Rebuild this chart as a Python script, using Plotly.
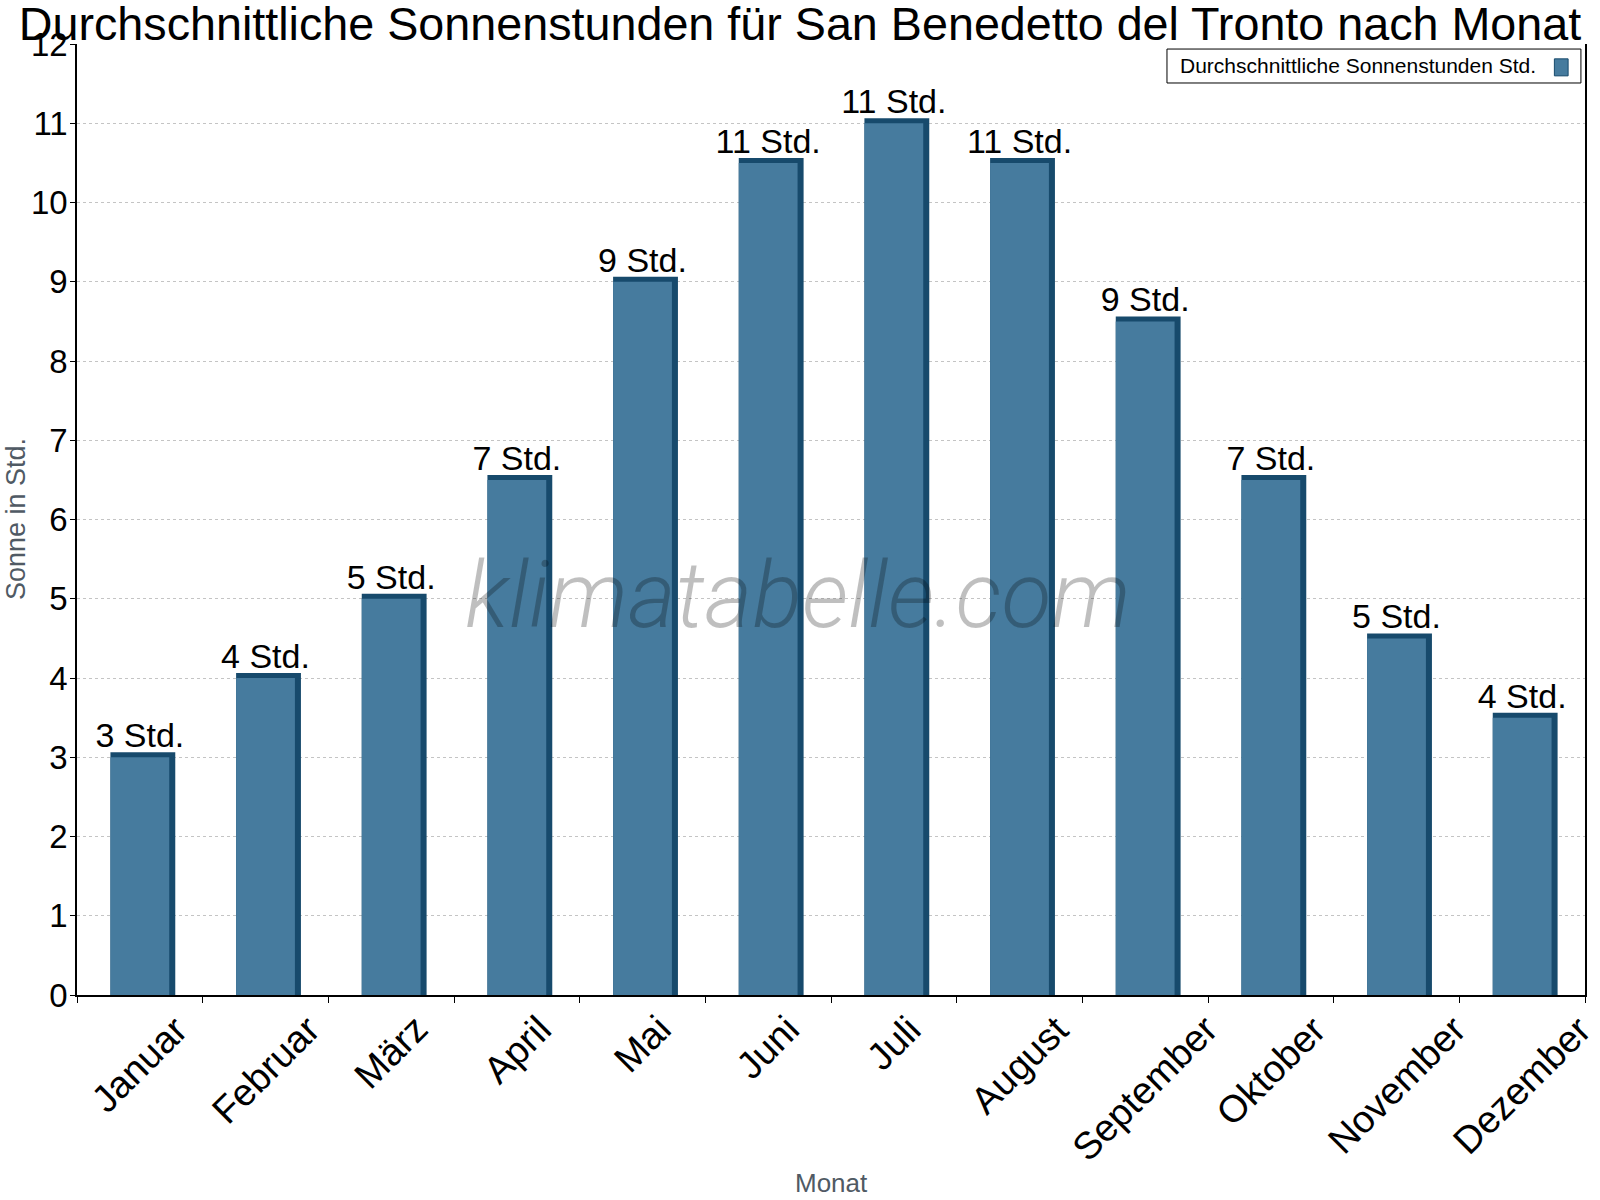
import plotly.graph_objects as go

months = ["Januar", "Februar", "März", "April", "Mai", "Juni", "Juli",
          "August", "September", "Oktober", "November", "Dezember"]
sun_hours = [3, 4, 5, 6.5, 9, 10.5, 11, 10.5, 8.5, 6.5, 4.5, 3.5]
labels = ["3 Std.", "4 Std.", "5 Std.", "7 Std.", "9 Std.", "11 Std.", "11 Std.",
          "11 Std.", "9 Std.", "7 Std.", "5 Std.", "4 Std."]
y_ticks = list(range(0, 13))

FRONT = "#467b9e"
DARK = "#174a6c"
FONT = "Liberation Sans, Arial, sans-serif"
AXIS_TITLE_COLOR = "#505a64"

# pseudo-3D depth (in axis units)
bar_w = 0.468
dx = 0.048
dy = 0.063

fig = go.Figure()
fig.add_trace(go.Bar(
    x=months, y=[v + dy for v in sun_hours], width=bar_w + dx, offset=-bar_w / 2,
    marker=dict(color=DARK, line=dict(width=0)),
    hoverinfo="skip", showlegend=False,
))
fig.add_trace(go.Bar(
    x=months, y=sun_hours, width=bar_w, offset=-bar_w / 2,
    marker=dict(color=FRONT, line=dict(width=0)),
    text=labels, textposition="outside", constraintext="none", cliponaxis=False,
    textfont=dict(family=FONT, size=34, color="black"),
    name="Durchschnittliche Sonnenstunden Std.", showlegend=False,
))

fig.update_layout(
    width=1600, height=1200,
    barmode="overlay",
    paper_bgcolor="white", plot_bgcolor="white",
    margin=dict(l=77, r=15, t=44, b=205, autoexpand=False),
    font=dict(family=FONT, color="black"),
    title=dict(text="Durchschnittliche Sonnenstunden für San Benedetto del Tronto nach Monat",
               x=0.5, xanchor="center", yref="container", y=0.98, yanchor="middle",
               font=dict(family=FONT, size=46.7, color="black")),
    xaxis=dict(
        automargin=False,
        range=[-0.5, len(months) - 0.5],
        showline=True, linecolor="black", linewidth=1.5,
        ticks="outside", ticklen=6, tickcolor="black", tickson="boundaries",
        showticklabels=False,
        showgrid=False,
    ),
    yaxis=dict(
        automargin=False,
        range=[0, 12], tickvals=y_ticks,
        showline=True, linecolor="black", linewidth=1.5, mirror=True,
        ticks="outside", ticklen=5, tickcolor="black",
        tickfont=dict(family=FONT, size=33, color="black"),
        ticklabelstandoff=-4,
        showgrid=True, gridcolor="#c4c4c4", griddash="dot", gridwidth=1,
        zeroline=False,
    ),
)

# month labels, rotated and centred under each category
for m in months:
    fig.add_annotation(text=m, xref="x", yref="paper", x=m, y=-0.0105,
                       xanchor="center", yanchor="top", textangle=-45, showarrow=False,
                       font=dict(family=FONT, size=38, color="black"))

# axis titles
fig.add_annotation(text="Sonne in Std.", xref="paper", yref="paper", x=-0.0407, y=0.5,
                   xanchor="center", yanchor="middle", textangle=-90, showarrow=False,
                   font=dict(family=FONT, size=27, color=AXIS_TITLE_COLOR))
fig.add_annotation(text="Monat", xref="paper", yref="paper", x=0.5, y=-0.198,
                   xanchor="center", yanchor="middle", showarrow=False,
                   font=dict(family=FONT, size=26, color=AXIS_TITLE_COLOR))

# watermark
fig.add_annotation(
    text="<i>klimatabelle.com</i>", xref="paper", yref="paper", x=0.478, y=0.42,
    showarrow=False, font=dict(family="Roboto", size=92, color="rgba(0,0,0,0.25)", weight=300),
)

# legend box (legend symbol sits to the right of the text in the original)
fig.add_shape(type="rect", xref="paper", yref="paper", x0=0.7228, x1=0.9973, y0=0.959, y1=0.9947,
              line=dict(color="black", width=1), fillcolor="white", layer="above")
fig.add_annotation(
    text="Durchschnittliche Sonnenstunden Std.", xref="paper", yref="paper",
    x=0.7300, y=0.977, xanchor="left", yanchor="middle", showarrow=False,
    font=dict(family=FONT, size=21, color="black"),
)
fig.add_shape(type="rect", xref="paper", yref="paper", x0=0.9797, x1=0.9888, y0=0.9665, y1=0.9844,
              line=dict(color=DARK, width=1), fillcolor=FRONT, layer="above")

fig.write_html("out.html")
